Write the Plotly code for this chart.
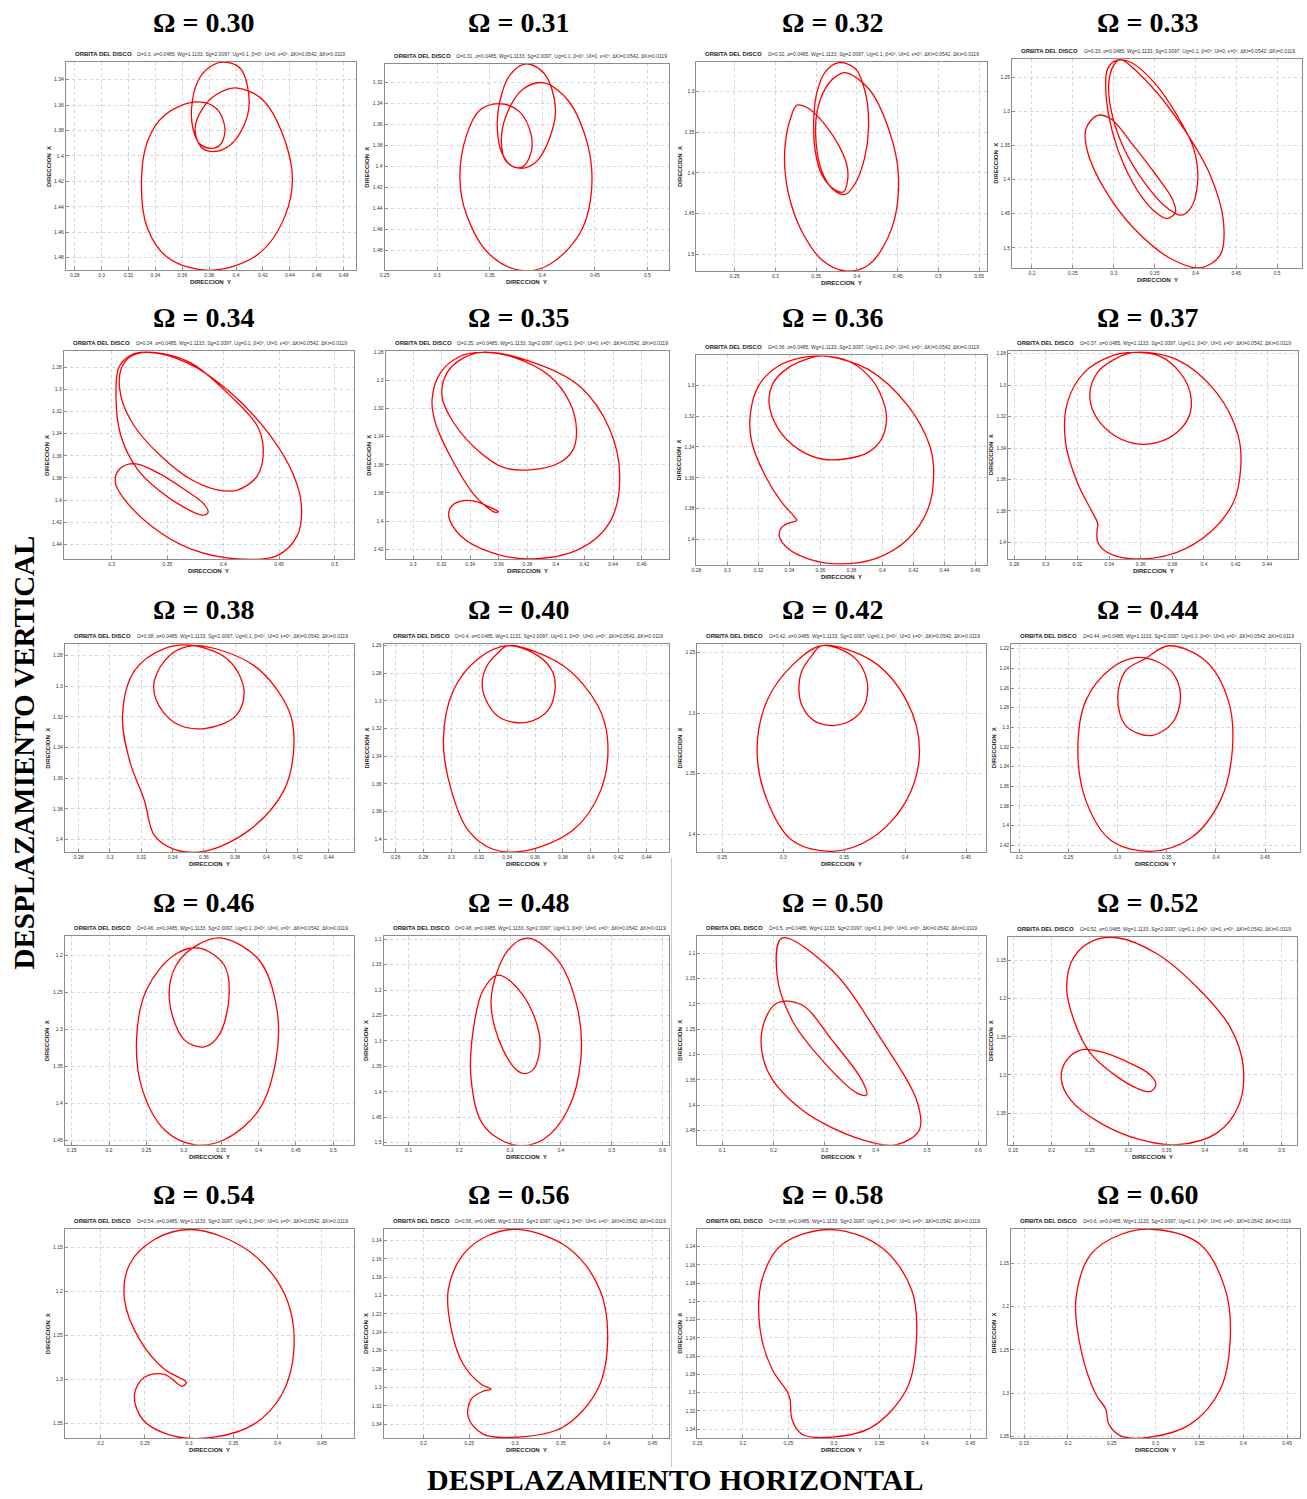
import numpy as np
import plotly.graph_objects as go

W, H = 1307, 1499

OMEGA = [0.30, 0.31, 0.32, 0.33, 0.34, 0.35, 0.36, 0.37, 0.38, 0.40,
         0.42, 0.44, 0.46, 0.48, 0.50, 0.52, 0.54, 0.56, 0.58, 0.60]

# Disc orbit samples: DIRECCION Y (horizontal) and DIRECCION X (vertical)
DIR_Y_030 = [0.3998, 0.4214, 0.4414, 0.4368, 0.4162, 0.3803, 0.3494, 0.334, 0.3296, 0.334, 0.3468, 0.37, 0.3854, 0.3918, 0.388, 0.3815, 0.3725, 0.3679, 0.3669, 0.3713, 0.3803, 0.3905, 0.4034, 0.4098, 0.406, 0.3957, 0.3833, 0.3738, 0.3695, 0.3751, 0.3854, 0.3998]
DIR_X_030 = [1.3465, 1.3575, 1.4096, 1.4461, 1.4774, 1.4899, 1.48, 1.4566, 1.4214, 1.3888, 1.3679, 1.3575, 1.3627, 1.3796, 1.3914, 1.394, 1.39, 1.3783, 1.3627, 1.3418, 1.3301, 1.3262, 1.3314, 1.3575, 1.3757, 1.3914, 1.3966, 1.3927, 1.3783, 1.3627, 1.3517, 1.3465]

DIR_Y_031 = [0.4006, 0.4258, 0.4467, 0.4384, 0.4069, 0.38, 0.35, 0.328, 0.3217, 0.328, 0.3406, 0.3595, 0.3785, 0.3895, 0.3895, 0.3816, 0.3722, 0.3611, 0.3573, 0.3595, 0.369, 0.3848, 0.4021, 0.4126, 0.4069, 0.3943, 0.38, 0.3658, 0.3611, 0.3658, 0.3816, 0.4006]
DIR_X_031 = [1.3206, 1.3389, 1.3987, 1.4586, 1.4932, 1.4989, 1.4838, 1.446, 1.4113, 1.3704, 1.3468, 1.3405, 1.3483, 1.3704, 1.3861, 1.4003, 1.4003, 1.3861, 1.3641, 1.3389, 1.3137, 1.3027, 1.3121, 1.3452, 1.3735, 1.3956, 1.4019, 1.3956, 1.3767, 1.3515, 1.3269, 1.3206]

DIR_Y_032 = [0.3858, 0.4143, 0.4388, 0.451, 0.4428, 0.4143, 0.3858, 0.3572, 0.3348, 0.3185, 0.3116, 0.3124, 0.3185, 0.3266, 0.3409, 0.3613, 0.3776, 0.3878, 0.3886, 0.3837, 0.3735, 0.3572, 0.3491, 0.347, 0.3511, 0.3613, 0.3776, 0.398, 0.4111, 0.4143, 0.4094, 0.398, 0.3858, 0.3715, 0.3572, 0.3499, 0.3511, 0.3613, 0.3735, 0.3858]
DIR_X_032 = [1.2771, 1.2967, 1.3457, 1.4029, 1.4682, 1.5131, 1.5204, 1.5069, 1.4763, 1.4355, 1.3947, 1.362, 1.3335, 1.3171, 1.3212, 1.3416, 1.3661, 1.3906, 1.409, 1.4233, 1.4212, 1.4029, 1.3743, 1.3376, 1.3008, 1.2763, 1.2649, 1.2722, 1.3049, 1.3457, 1.3824, 1.4131, 1.4265, 1.4212, 1.3988, 1.362, 1.3253, 1.2967, 1.2824, 1.2771]

DIR_Y_033 = [0.3087, 0.3452, 0.3857, 0.4182, 0.4344, 0.4303, 0.406, 0.3695, 0.3249, 0.2884, 0.2681, 0.2661, 0.2803, 0.2965, 0.3208, 0.3492, 0.3715, 0.3756, 0.3655, 0.3533, 0.333, 0.3127, 0.2985, 0.2904, 0.2925, 0.3026, 0.3208, 0.3492, 0.3776, 0.3979, 0.4028, 0.3938, 0.3817, 0.3614, 0.3371, 0.3127, 0.2965, 0.2945, 0.3026, 0.3087]
DIR_X_033 = [1.2242, 1.2622, 1.3255, 1.3938, 1.462, 1.5107, 1.5292, 1.5156, 1.4717, 1.4133, 1.3596, 1.3255, 1.306, 1.3109, 1.345, 1.3889, 1.4279, 1.4474, 1.4571, 1.4498, 1.423, 1.3791, 1.3304, 1.2719, 1.2378, 1.2256, 1.2281, 1.2573, 1.306, 1.3548, 1.4035, 1.4425, 1.4522, 1.4376, 1.4035, 1.3548, 1.2963, 1.2524, 1.2281, 1.2242]

DIR_Y_034 = [0.3322, 0.3679, 0.4067, 0.4424, 0.4633, 0.4701, 0.4663, 0.4484, 0.4126, 0.3709, 0.3352, 0.3113, 0.3033, 0.3069, 0.3203, 0.3411, 0.365, 0.3828, 0.3864, 0.3813, 0.365, 0.3411, 0.3232, 0.3083, 0.3039, 0.3069, 0.3203, 0.3381, 0.3709, 0.4067, 0.4305, 0.4359, 0.4305, 0.4126, 0.3948, 0.3709, 0.3441, 0.3203, 0.3083, 0.3083, 0.3173, 0.3322]
DIR_X_034 = [1.2665, 1.2761, 1.3031, 1.3421, 1.3782, 1.4052, 1.4322, 1.4502, 1.4532, 1.4442, 1.4232, 1.3992, 1.3842, 1.3722, 1.3671, 1.3752, 1.3902, 1.4037, 1.4112, 1.4136, 1.4067, 1.3902, 1.3722, 1.3421, 1.3061, 1.2791, 1.2677, 1.2665, 1.2761, 1.3061, 1.3331, 1.3542, 1.3782, 1.3911, 1.3908, 1.3812, 1.3602, 1.3331, 1.3061, 1.2821, 1.2701, 1.2665]

DIR_Y_035 = [0.3481, 0.3819, 0.4167, 0.4377, 0.4447, 0.4377, 0.4167, 0.3819, 0.354, 0.333, 0.3249, 0.3272, 0.3353, 0.3447, 0.354, 0.3598, 0.3574, 0.3505, 0.3423, 0.3284, 0.3156, 0.3133, 0.3191, 0.333, 0.3481, 0.3679, 0.3958, 0.4098, 0.4144, 0.4121, 0.4028, 0.3819, 0.3633, 0.347, 0.3284, 0.3202, 0.3237, 0.3353, 0.3481]
DIR_X_035 = [1.28, 1.2864, 1.3041, 1.3348, 1.3702, 1.4009, 1.4198, 1.4269, 1.4221, 1.4103, 1.3962, 1.3891, 1.3855, 1.3863, 1.3903, 1.3933, 1.3938, 1.3891, 1.3808, 1.3584, 1.3301, 1.3135, 1.2946, 1.2828, 1.28, 1.2828, 1.297, 1.3159, 1.3348, 1.349, 1.3584, 1.3636, 1.3619, 1.3513, 1.3301, 1.3112, 1.2946, 1.284, 1.28]

DIR_Y_036 = [0.3608, 0.3908, 0.4165, 0.4305, 0.4331, 0.4294, 0.4165, 0.3951, 0.3694, 0.3522, 0.3394, 0.3334, 0.3351, 0.3394, 0.3447, 0.3426, 0.3351, 0.3244, 0.3158, 0.3147, 0.3201, 0.3329, 0.348, 0.3608, 0.378, 0.393, 0.4015, 0.4026, 0.3994, 0.3908, 0.3758, 0.3608, 0.3458, 0.3329, 0.3269, 0.3297, 0.3394, 0.3522, 0.3608]
DIR_X_036 = [1.281, 1.2897, 1.3134, 1.3392, 1.3565, 1.3802, 1.3996, 1.4125, 1.4157, 1.4125, 1.406, 1.3974, 1.392, 1.3894, 1.3877, 1.3845, 1.3759, 1.3586, 1.3371, 1.3198, 1.3004, 1.2875, 1.2821, 1.281, 1.2843, 1.2961, 1.3134, 1.3231, 1.3349, 1.3435, 1.3478, 1.3478, 1.3414, 1.3284, 1.3112, 1.2983, 1.2886, 1.2828, 1.281]

DIR_Y_037 = [0.3556, 0.3829, 0.4081, 0.4217, 0.4232, 0.4186, 0.4039, 0.3829, 0.3556, 0.3388, 0.3329, 0.3325, 0.3329, 0.3283, 0.3199, 0.3125, 0.3136, 0.3241, 0.3409, 0.3556, 0.3724, 0.385, 0.3913, 0.3913, 0.385, 0.3703, 0.3556, 0.3409, 0.3304, 0.3279, 0.3325, 0.343, 0.3556]
DIR_X_037 = [1.2792, 1.2838, 1.3049, 1.3323, 1.3535, 1.3746, 1.3936, 1.4063, 1.4105, 1.4063, 1.4, 1.3915, 1.3883, 1.3788, 1.3619, 1.3366, 1.3113, 1.2922, 1.2817, 1.2792, 1.2817, 1.2922, 1.3049, 1.3176, 1.3282, 1.3366, 1.337, 1.3303, 1.3176, 1.3049, 1.2922, 1.2838, 1.2792]

DIR_Y_038 = [0.3539, 0.3921, 0.4144, 0.4176, 0.4112, 0.3889, 0.3603, 0.3411, 0.3284, 0.322, 0.3125, 0.308, 0.3157, 0.3348, 0.3539, 0.3762, 0.3857, 0.3806, 0.3603, 0.3411, 0.3297, 0.3284, 0.338, 0.3539]
DIR_X_038 = [1.2735, 1.2865, 1.3158, 1.3386, 1.3679, 1.394, 1.4077, 1.4064, 1.3973, 1.3745, 1.3484, 1.3191, 1.2898, 1.2754, 1.2735, 1.2833, 1.3028, 1.3191, 1.3276, 1.3236, 1.3093, 1.2963, 1.28, 1.2735]

DIR_Y_040 = [0.3407, 0.38, 0.405, 0.4121, 0.4071, 0.3871, 0.3514, 0.33, 0.3121, 0.3, 0.2943, 0.3014, 0.3193, 0.3407, 0.3621, 0.3729, 0.3743, 0.3693, 0.3586, 0.3457, 0.3336, 0.325, 0.3221, 0.3257, 0.3336, 0.3407]
DIR_X_040 = [1.26, 1.2744, 1.3033, 1.3286, 1.3647, 1.3936, 1.4087, 1.4073, 1.3936, 1.3647, 1.3286, 1.2925, 1.2694, 1.26, 1.2672, 1.2795, 1.2925, 1.3069, 1.3142, 1.3156, 1.3113, 1.2997, 1.2874, 1.2744, 1.2651, 1.26]

DIR_Y_042 = [0.3317, 0.3725, 0.4011, 0.4118, 0.4011, 0.3725, 0.3399, 0.3072, 0.2868, 0.2786, 0.2868, 0.3072, 0.3317, 0.3562, 0.366, 0.3693, 0.3644, 0.3521, 0.3399, 0.3252, 0.3154, 0.3129, 0.3154, 0.3235, 0.3317]
DIR_X_042 = [1.2442, 1.2566, 1.2896, 1.3308, 1.372, 1.4033, 1.4141, 1.405, 1.372, 1.3308, 1.2896, 1.2607, 1.2442, 1.2524, 1.2648, 1.2813, 1.2978, 1.3077, 1.3102, 1.3061, 1.2937, 1.2797, 1.2648, 1.2524, 1.2442]

DIR_Y_044 = [0.3518, 0.3893, 0.4126, 0.4166, 0.4045, 0.3741, 0.3336, 0.2931, 0.2678, 0.2597, 0.2678, 0.2931, 0.3185, 0.34, 0.3559, 0.364, 0.3559, 0.3336, 0.3083, 0.3002, 0.3083, 0.3285, 0.3518]
DIR_X_044 = [1.217, 1.2322, 1.2728, 1.3236, 1.3743, 1.4129, 1.4261, 1.4149, 1.3743, 1.3236, 1.2728, 1.2403, 1.229, 1.233, 1.2444, 1.2677, 1.2951, 1.3083, 1.2982, 1.2697, 1.2423, 1.23, 1.217]

DIR_Y_046 = [0.3513, 0.4007, 0.4247, 0.4233, 0.4007, 0.354, 0.314, 0.274, 0.2447, 0.2367, 0.25, 0.2873, 0.3207, 0.354, 0.3607, 0.3473, 0.3273, 0.3007, 0.2807, 0.29, 0.3207, 0.3513]
DIR_X_046 = [1.1772, 1.2067, 1.2739, 1.3411, 1.4083, 1.4487, 1.4554, 1.4352, 1.3815, 1.3142, 1.247, 1.2, 1.1906, 1.2134, 1.2538, 1.3075, 1.3237, 1.3142, 1.2605, 1.2134, 1.185, 1.1772]

DIR_Y_048 = [0.3353, 0.3941, 0.4333, 0.4392, 0.4137, 0.3647, 0.3059, 0.2471, 0.2235, 0.2275, 0.2471, 0.2765, 0.3255, 0.3588, 0.3451, 0.3216, 0.2863, 0.2627, 0.2961, 0.3353]
DIR_X_048 = [1.098, 1.1412, 1.2392, 1.3373, 1.4353, 1.4941, 1.5039, 1.4647, 1.3765, 1.2784, 1.2, 1.1706, 1.2098, 1.298, 1.3569, 1.3627, 1.3176, 1.2196, 1.1216, 1.098]

DIR_Y_050 = [0.2167, 0.314, 0.4113, 0.4794, 0.4852, 0.4405, 0.3724, 0.2556, 0.1875, 0.1778, 0.207, 0.2556, 0.314, 0.3724, 0.3821, 0.3626, 0.2946, 0.2362, 0.207, 0.2167]
DIR_X_050 = [1.0705, 1.1335, 1.2713, 1.3894, 1.4484, 1.478, 1.4681, 1.4091, 1.3303, 1.2516, 1.1984, 1.2024, 1.2713, 1.35, 1.3795, 1.3756, 1.3106, 1.2319, 1.1433, 1.0705]

DIR_Y_052 = [0.2855, 0.3374, 0.3894, 0.4327, 0.45, 0.4435, 0.4154, 0.3634, 0.3158, 0.2639, 0.2249, 0.2128, 0.2184, 0.2379, 0.2639, 0.3028, 0.3288, 0.3361, 0.3288, 0.3115, 0.2855, 0.2509, 0.2292, 0.2197, 0.2292, 0.2552, 0.2855]
DIR_X_052 = [1.1204, 1.1413, 1.1848, 1.237, 1.2891, 1.3413, 1.3761, 1.3913, 1.3848, 1.363, 1.3326, 1.3065, 1.2826, 1.2674, 1.2696, 1.2848, 1.3, 1.313, 1.3217, 1.3174, 1.3022, 1.2717, 1.2283, 1.1848, 1.1457, 1.1239, 1.1204]

DIR_Y_054 = [0.3002, 0.2608, 0.2327, 0.227, 0.2439, 0.2721, 0.2968, 0.2923, 0.2721, 0.2495, 0.2383, 0.2473, 0.2833, 0.3284, 0.3734, 0.405, 0.4185, 0.4106, 0.3791, 0.3396, 0.3002]
DIR_X_054 = [1.1295, 1.1409, 1.1693, 1.2091, 1.2545, 1.2886, 1.3034, 1.308, 1.2943, 1.2977, 1.317, 1.3455, 1.3648, 1.3659, 1.3511, 1.317, 1.2659, 1.2091, 1.1636, 1.1386, 1.1295]

DIR_Y_056 = [0.3033, 0.3576, 0.3924, 0.4011, 0.3902, 0.3522, 0.3033, 0.2652, 0.2489, 0.2522, 0.2652, 0.2739, 0.263, 0.2435, 0.2304, 0.2272, 0.2435, 0.2707, 0.3033]
DIR_X_056 = [1.128, 1.1476, 1.1933, 1.2476, 1.302, 1.3433, 1.3541, 1.3509, 1.3324, 1.3128, 1.3041, 1.302, 1.2965, 1.2748, 1.2367, 1.1933, 1.1552, 1.1346, 1.128]

DIR_Y_058 = [0.2977, 0.3524, 0.3852, 0.3907, 0.3798, 0.3415, 0.2977, 0.2649, 0.2539, 0.2518, 0.2485, 0.2321, 0.2189, 0.2211, 0.243, 0.2977]
DIR_X_058 = [1.1214, 1.1411, 1.187, 1.2416, 1.2963, 1.3378, 1.3487, 1.3455, 1.3291, 1.3072, 1.2985, 1.2744, 1.2307, 1.1761, 1.1378, 1.1214]

DIR_Y_060 = [0.3, 0.3511, 0.3795, 0.3852, 0.3739, 0.3398, 0.2943, 0.261, 0.2466, 0.2432, 0.2318, 0.2148, 0.2091, 0.2261, 0.2602, 0.3]
DIR_X_060 = [1.1107, 1.1281, 1.18, 1.2378, 1.2955, 1.3359, 1.3509, 1.3498, 1.3359, 1.3186, 1.3013, 1.2493, 1.1916, 1.1396, 1.1165, 1.1107]

ORBITS = [
    (DIR_Y_030, DIR_X_030), (DIR_Y_031, DIR_X_031), (DIR_Y_032, DIR_X_032), (DIR_Y_033, DIR_X_033),
    (DIR_Y_034, DIR_X_034), (DIR_Y_035, DIR_X_035), (DIR_Y_036, DIR_X_036), (DIR_Y_037, DIR_X_037),
    (DIR_Y_038, DIR_X_038), (DIR_Y_040, DIR_X_040), (DIR_Y_042, DIR_X_042), (DIR_Y_044, DIR_X_044),
    (DIR_Y_046, DIR_X_046), (DIR_Y_048, DIR_X_048), (DIR_Y_050, DIR_X_050), (DIR_Y_052, DIR_X_052),
    (DIR_Y_054, DIR_X_054), (DIR_Y_056, DIR_X_056), (DIR_Y_058, DIR_X_058), (DIR_Y_060, DIR_X_060),
]

# axis windows (horizontal = DIRECCION Y, vertical = DIRECCION X, drawn downward)
H_RANGE = [(0.2733, 0.489), (0.25, 0.521), (0.203, 0.560), (0.1757, 0.5305),
           (0.2571, 0.5169), (0.2807, 0.4795), (0.28, 0.4676), (0.2762, 0.4595),
           (0.2711, 0.4558), (0.2514, 0.4564), (0.2296, 0.4665), (0.1919, 0.4854),
           (0.1407, 0.5273), (0.051, 0.6137), (0.0514, 0.6156), (0.1435, 0.5201),
           (0.1595, 0.486), (0.1565, 0.4685), (0.15, 0.4673), (0.1352, 0.4648)]
V_RANGE = [(1.326, 1.49), (1.3027, 1.4989), (1.264, 1.521), (1.2232, 1.5302),
           (1.2656, 1.4532), (1.2793, 1.4269), (1.2806, 1.4164), (1.2785, 1.4105),
           (1.2722, 1.4083), (1.2586, 1.4095), (1.2426, 1.4149), (1.2149, 1.4271),
           (1.1745, 1.4554), (1.0941, 1.5039), (1.0665, 1.478), (1.1196, 1.3913),
           (1.1284, 1.367), (1.127, 1.3552), (1.1203, 1.3498), (1.1096, 1.3521)]
H_STEP = [0.02, 0.05, 0.05, 0.05, 0.05, 0.02, 0.02, 0.02, 0.02, 0.02,
          0.05, 0.05, 0.05, 0.1, 0.1, 0.05, 0.05, 0.05, 0.05, 0.05]
V_STEP = [0.02, 0.02, 0.05, 0.05, 0.02, 0.02, 0.02, 0.02, 0.02, 0.02,
          0.05, 0.02, 0.05, 0.05, 0.05, 0.05, 0.05, 0.02, 0.02, 0.05]

# panel plot boxes in pixels: left, top, right, bottom
BOXES = [(61, 60, 352, 269), (381, 62, 667, 269), (694, 60, 986, 270), (1011, 57, 1302, 267),
         (59, 350, 350, 558), (382, 350, 667, 558), (694, 354, 986, 564), (1007, 350, 1298, 558),
         (60, 643, 350, 852), (380, 643, 667, 852), (695, 643, 985, 852), (1010, 643, 1300, 852),
         (60, 936, 350, 1145), (380, 936, 667, 1145), (695, 936, 985, 1145), (1007, 937, 1297, 1145),
         (60, 1229, 350, 1439), (380, 1229, 667, 1439), (695, 1229, 985, 1439), (1010, 1229, 1300, 1439)]
TITLE_ROW_Y = [21, 316, 609, 902, 1195]
TITLE_COL_X = [199.5, 515, 830.5, 1146.5]


def ticks(lo, hi, step):
    start = np.ceil(lo / step - 1e-6) * step
    vals = np.arange(start, hi + 1e-9, step)
    vals = [round(v, 4) for v in vals]
    return vals, ["%g" % v for v in vals]


def px_x(p):
    return p / W


def px_y(p):
    return 1 - p / H


fig = go.Figure()
annotations = []
layout_axes = {}
serif = "Liberation Serif"
sans = "Liberation Sans, Arial"

for i, (om, (hy, vx)) in enumerate(zip(OMEGA, ORBITS)):
    n = i + 1
    l, t, r, b = BOXES[i]
    fig.add_trace(go.Scatter(
        x=hy, y=vx, mode="lines",
        line=dict(color="#ff0000", width=1.3, shape="spline", smoothing=1.0),
        xaxis=f"x{n}", yaxis=f"y{n}", showlegend=False, hoverinfo="skip"))

    hv, ht = ticks(*H_RANGE[i], H_STEP[i])
    vv, vt = ticks(*V_RANGE[i], V_STEP[i])
    common = dict(showline=True, linecolor="#8c8c8c", linewidth=1, mirror=True,
                  ticks="inside", ticklen=3, tickcolor="#8c8c8c",
                  showgrid=True, gridcolor="#d4d4d4", gridwidth=0.7, griddash="dot",
                  zeroline=False, tickfont=dict(family=sans, size=5, color="#333"))
    layout_axes[f"xaxis{n}"] = dict(domain=[px_x(l), px_x(r)], anchor=f"y{n}",
                                     range=list(H_RANGE[i]), tickvals=hv, ticktext=ht, **common)
    layout_axes[f"yaxis{n}"] = dict(domain=[px_y(b), px_y(t)], anchor=f"x{n}",
                                     range=[V_RANGE[i][1], V_RANGE[i][0]], tickvals=vv, ticktext=vt, **common)

    cx = (l + r) / 2
    row, col = divmod(i, 4)
    annotations.append(dict(text=f"<b>Ω = {om:.2f}</b>", x=px_x(TITLE_COL_X[col]), y=px_y(TITLE_ROW_Y[row]),
                            xref="paper", yref="paper", showarrow=False, xanchor="center", yanchor="middle",
                            font=dict(family=serif, size=28, color="black")))
    annotations.append(dict(text="<b>ORBITA DEL DISCO</b>", x=px_x(l + 7), y=px_y(t - 8),
                            xref="paper", yref="paper", showarrow=False, xanchor="left", yanchor="middle",
                            font=dict(family=sans, size=6, color="#222")))
    params = (f"Ω={om:g}, α=0.0485, Wg=1.1133, Sg=2.0097, Ug=0.1, "
              f"β=0º, Ul=0, ε=0º, ΔKl=0.0542, ΔKt=0.0119")
    annotations.append(dict(text=params, x=px_x(l + 70), y=px_y(t - 8),
                            xref="paper", yref="paper", showarrow=False, xanchor="left", yanchor="middle",
                            font=dict(family=sans, size=5, color="#333")))
    annotations.append(dict(text="<b>DIRECCION  Y</b>", x=px_x(cx), y=px_y(b + 12),
                            xref="paper", yref="paper", showarrow=False, xanchor="center", yanchor="middle",
                            font=dict(family=sans, size=6, color="#222")))
    annotations.append(dict(text="<b>DIRECCION  X</b>", x=px_x(l - 17), y=px_y((t + b) / 2),
                            xref="paper", yref="paper", showarrow=False, xanchor="center", yanchor="middle",
                            textangle=-90, font=dict(family=sans, size=6, color="#222")))

annotations.append(dict(text="<b>DESPLAZAMIENTO VERTICAL</b>", x=px_x(20), y=px_y(752),
                        xref="paper", yref="paper", showarrow=False, xanchor="center", yanchor="middle",
                        textangle=-90, font=dict(family=serif, size=29, color="black")))
annotations.append(dict(text="<b>DESPLAZAMIENTO HORIZONTAL</b>", x=px_x(673), y=0.0005,
                        xref="paper", yref="paper", showarrow=False, xanchor="center", yanchor="bottom",
                        borderpad=0, font=dict(family=serif, size=30, color="black")))

fig.update_layout(
    width=W, height=H, margin=dict(l=0, r=0, t=0, b=0),
    paper_bgcolor="white", plot_bgcolor="white",
    annotations=annotations,
    shapes=[dict(type="line", xref="paper", yref="paper", x0=px_x(669), x1=px_x(669),
                 y0=px_y(857), y1=px_y(1468), line=dict(color="#c8c8c8", width=1))],
    **layout_axes,
)

fig.write_html("out.html")
